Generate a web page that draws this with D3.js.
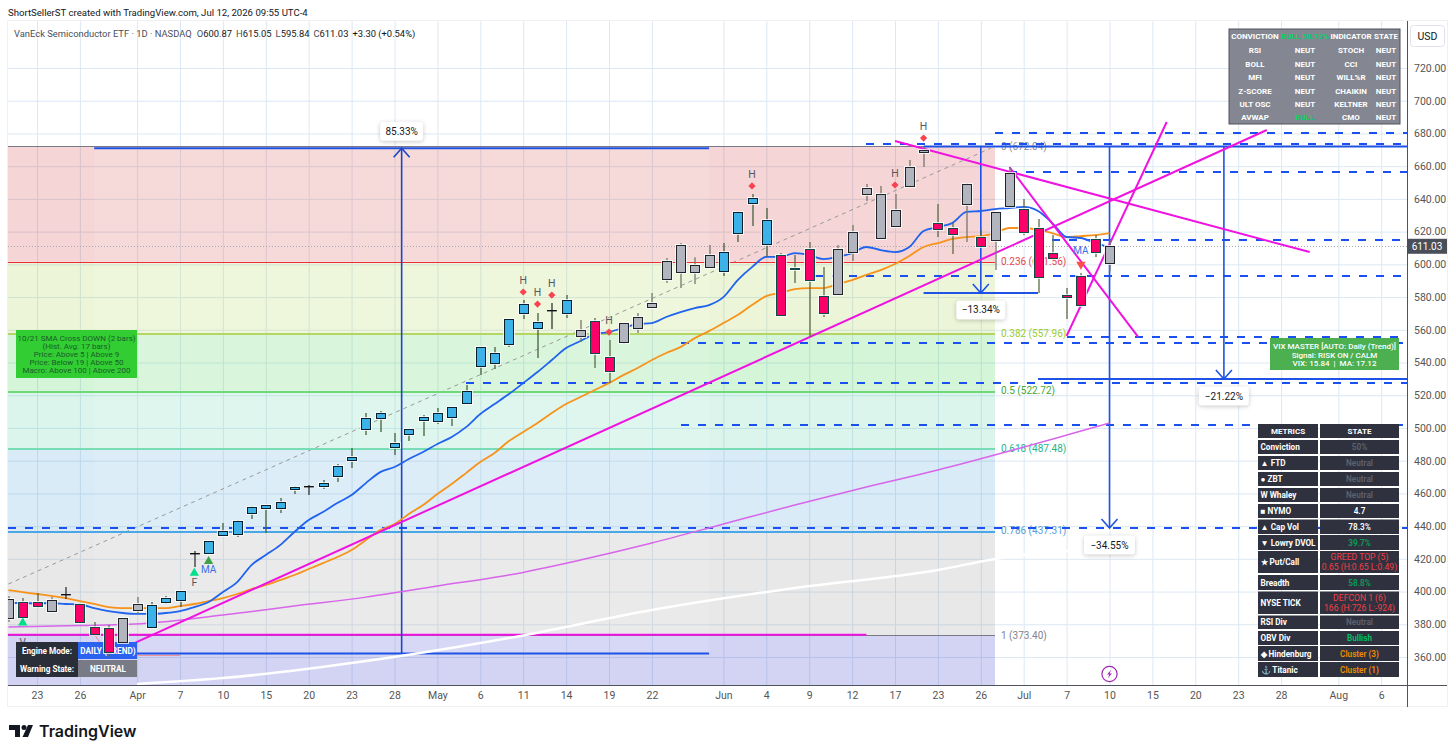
<!DOCTYPE html>
<html>
<head>
<meta charset="utf-8">
<title>SMH daily</title>
<style>
html, body { margin: 0; padding: 0; background: #fff; }
svg { display: block; font-family: Roboto, sans-serif; }
.axis path, .axis line { display: none; }
.grid path { display: none; }
.grid line { stroke: #dce8f3; stroke-width: 1; }
.box { filter: drop-shadow(0 1px 2px rgba(0,0,0,.22)); }
.crisp { shape-rendering: crispEdges; }
</style>
<script src="https://d3js.org/d3.v7.min.js"></script>
</head>
<body>
<svg id="chart" width="1456" height="755"></svg>
<script>
// daily bars, Mar 19 -> Jul 10
const opens = [383.8,393.6,393.6,388.1,398.5,392.4,378.3,377.7,369.1,388.7,
  378.3,393.6,394.8,423.5,423.5,434.6,435.2,448.0,451.0,451.0,
  462.7,464.5,464.5,470.6,480.4,499.3,506.1,488.3,496.3,504.8,
  504.2,506.7,515.2,537.8,539.7,551.3,570.2,561.0,572.1,570.2,
  556.2,565.3,543.3,552.5,561.0,573.9,591.0,595.3,595.3,598.3,
  595.9,619.1,637.5,612.4,605.7,597.7,609.3,580.6,581.9,607.5,
  643.0,616.1,623.4,647.9,668.6,625.2,622.2,636.9,616.7,614.9,
  635.6,633.8,622.2,606.9,581.2,592.8,615.5,600.87];
const highs = [397.3,396.0,399.1,396.6,402.8,393.0,381.4,379.5,383.8,396.6,
  393.6,397.3,400.3,424.8,430.9,441.9,443.7,452.3,452.9,457.2,
  464.5,465.1,468.2,478.0,487.7,509.1,510.3,496.9,499.3,507.9,
  512.2,512.8,526.2,549.4,549.4,566.6,578.2,570.2,576.3,581.2,
  565.9,567.2,553.7,564.1,570.2,582.5,603.9,613.0,604.4,611.8,
  613.0,632.5,643.0,634.4,606.9,605.7,613.6,598.3,611.8,624.0,
  649.1,647.9,643.0,663.7,671.7,636.9,625.2,649.7,620.9,632.0,
  659.5,639.9,627.7,617.9,585.5,594.7,617.9,615.05];
const lows = [381.4,380.8,389.9,387.5,395.4,380.8,373.4,360.0,369.1,386.3,
  378.3,392.4,390.5,415.0,423.5,434.6,433.3,444.3,435.8,448.0,
  459.6,459.0,462.7,466.9,475.5,495.7,497.5,483.4,492.0,495.1,
  502.4,501.2,514.6,532.3,536.0,549.4,566.6,542.7,560.4,567.2,
  552.5,536.6,527.4,551.3,558.0,573.3,588.6,585.5,588.0,597.7,
  592.8,613.6,623.4,604.5,569.0,588.6,555.6,567.8,581.9,602.0,
  638.7,616.1,623.4,647.9,659.5,616.7,606.3,613.6,611.2,596.5,
  635.6,617.9,582.5,603.8,566.6,575.1,604.5,595.84];
const closes = [395.4,384.4,391.1,394.8,398.5,381.4,374.0,363.0,383.8,392.4,
  391.8,396.0,400.3,423.5,430.9,437.0,443.1,451.7,452.9,454.7,
  463.9,464.5,466.3,476.7,482.2,506.1,509.1,490.8,499.3,506.7,
  509.1,512.8,522.5,549.4,545.8,566.6,575.7,564.7,572.1,578.2,
  559.8,545.8,534.8,564.1,567.8,576.3,602.0,611.8,599.6,605.7,
  607.5,632.0,640.5,627.1,569.0,597.1,590.4,570.2,609.3,619.7,
  646.6,643.0,633.2,659.5,669.9,621.6,618.5,649.1,611.2,632.0,
  655.8,619.7,592.2,603.8,580.0,575.1,607.5,611.03];
// g grey, b blue, p pink, d doji
const barKinds = ("gppgdpppgg" + "bbbdbbbbbb" + "bdbbbbbbbb" + "bbbbbbbbdb" +
  "gppggggggg" + "bbbbppppgg" + "gggggppgpg" + "gppppppg").split("");

const maBlue = [393.0,393.0,392.7,393.0,392.4,392.1,389.9,388.1,386.9,386.3,
  386.3,386.9,388.1,390.5,393.6,399.7,405.8,416.2,422.3,428.4,
  436.4,443.7,448.6,454.1,459.0,466.3,473.0,476.1,481.0,485.3,
  490.2,494.5,500.5,508.5,514.6,520.7,527.4,534.2,541.5,548.8,
  553.1,557.4,558.6,561.1,563.5,564.1,567.8,570.8,573.3,575.1,
  580.0,590.4,598.3,604.5,604.5,606.9,605.7,603.2,604.5,606.9,
  610.6,608.7,607.5,610.6,620.4,622.8,625.2,632.0,632.6,633.8,
  634.4,635.1,632.6,625.2,616.7,616.1,613.0,610.6];
const maOrange = [400.9,399.7,398.5,397.3,396.0,394.2,392.4,390.5,389.9,389.9,
  389.9,389.9,391.1,392.4,394.2,396.0,398.5,401.5,404.0,407.0,
  410.1,413.8,417.4,421.1,425.4,431.5,437.6,441.3,447.4,452.9,
  459.6,465.7,472.4,479.2,484.7,492.0,497.5,503.0,509.1,514.6,
  518.9,523.2,527.4,532.3,536.6,541.5,545.8,549.4,554.9,559.2,
  564.1,569.0,575.1,580.6,582.5,584.9,585.5,585.5,588.0,590.4,
  593.5,596.5,600.2,605.1,610.6,613.0,615.5,616.7,617.3,619.1,
  622.2,622.2,621.0,619.1,616.7,617.3,617.9,619.1];
const maPurpleIdx = [0,5,10,15,20,25,30,35,40,45,50,55,60,65,70,75,77];
const maPurple = [378.3,379.2,380.8,385.6,391.2,396.6,403.4,410.1,419.3,429.7,441.3,452.9,463.9,474.3,485.9,498.1,503.0];
const maWhiteIdx = [9,15,25,35,45,55,65,69,77];
const maWhite = [343.5,347.1,357.5,371.6,388.7,402.2,413.2,419.9,426.6];

const priceTicks = d3.range(360, 721, 20);
const dateTickIdx = [2,5,9,12,15,18,21,24,27,30,33,36,39,42,45,50,53,56,59,62,65,68,71,74,77,80,83,86,89,93,96];
const dateTickLabels = ["23","26","Apr","7","10","15","20","23","28","May","6","11","14","19","22","Jun","4","9","12","17","23","26","Jul","7","10","15","20","23","28","Aug","6"];

const fibRatios = ["0","0.236","0.382","0.5","0.618","0.786","1"];
const fibPrices = [672.04,601.56,557.96,522.72,487.48,437.31,373.40];

const dashedPrices = [680.2,673.5,656.4,614.9,592.8,555.6,551.9,527.4,501.8,438.8];
const dashedStartIdx = [69,60,70,73,56.4,74,47,32,47,0];

const trendStartIdx = [8.5,62,70,74];
const trendStartPrice = [367.3,675.4,659.5,556.2];
const trendEndIdx = [88,91,79,81];
const trendEndPrice = [682.1,607.5,555.6,687.0];

const highMarkerIdx = [36,37,38,42,52,62,64];
const highMarkerPrice = [583.1,575.7,581.2,558.6,647.9,648.5,677.2];

const measureIdx = [27.5,68,77,85];
const measureFrom = [362.2,672,672,672];
const measureTo = [671,582.5,438.8,529.9];
const measureLabels = ["85.33%","\u221213.34%","\u221234.55%","\u221221.22%"];

const metricNames = ["Conviction","\u25B2 FTD","\u25CF ZBT","W Whaley","\u25A0 NYMO","\u25B2 Cap Vol","\u25BC Lowry DVOL","\u2605 Put/Call","Breadth","NYSE TICK","RSI Div","OBV Div","\u25C6 Hindenburg","\u2693 Titanic"];
const metricStates = ["50%","Neutral","Neutral","Neutral","4.7","78.3%","39.7%","GREED TOP (5)|0.65 (H:0.65 L:0.49)","58.8%","DEFCON 1 (6)|166 (H:726 L:-924)","Neutral","Bullish","Cluster (3)","Cluster (1)"];
const metricColors = ["#5f626d","#5f626d","#5f626d","#5f626d","#fff","#fff","#0a9d58","#f23f4a","#0a9d58","#f23f4a","#5f626d","#00c466","#f08c00","#f08c00"];
const metricTops = [440,456,472,488,504,519.5,535,551,575,591.5,615.5,631,646,662];
const metricBottoms = [454,470,486,502,518,534,550,573,590,614,629,645,661,677];

const convLeft = ["RSI","BOLL","MFI","Z-SCORE","ULT OSC","AVWAP"];
const convMid = ["NEUT","NEUT","NEUT","NEUT","NEUT","BULL"];
const convInd = ["STOCH","CCI","WILL%R","CHAIKIN","KELTNER","CMO"];
const convState = ["NEUT","NEUT","NEUT","NEUT","NEUT","NEUT"];

const smaLines = ["10/21 SMA Cross DOWN (2 bars)","(Hist. Avg: 17 bars)","Price: Above 5 | Above 9","Price: Below 19 | Above 50","Macro: Above 100 | Above 200"];
const vixLines = ["VIX MASTER [AUTO: Daily (Trend)]","Signal: RISK ON / CALM","VIX: 15.84  |  MA: 17.12"];

const PLOT_L = 8, PLOT_R = 1407, PLOT_T = 21, PLOT_B = 685;
const svg = d3.select("#chart");

const x = d3.scaleLinear().domain([0, 96]).range([8.4, 1381.2]);
const y = d3.scaleLinear().domain([720, 360]).range([68, 657]);
const BODY_W = 9;

svg.append("defs").append("clipPath").attr("id", "plot")
  .append("rect").attr("x", PLOT_L).attr("y", PLOT_T)
  .attr("width", PLOT_R - PLOT_L).attr("height", PLOT_B - PLOT_T);

// frame
svg.append("rect").attr("x", 7.5).attr("y", 20.5).attr("width", 1440).attr("height", 686)
  .attr("fill", "#fff").attr("stroke", "#f0f1f4");

// grid
svg.append("g").attr("class", "grid").attr("transform", `translate(0,${PLOT_B})`)
  .call(d3.axisBottom(x).tickValues(dateTickIdx).tickSize(-(PLOT_B - PLOT_T)).tickFormat(""));
svg.append("g").attr("class", "grid").attr("transform", `translate(${PLOT_R},0)`)
  .call(d3.axisLeft(y).tickValues(priceTicks).tickSize(PLOT_R - PLOT_L).tickFormat(""));

const plot = svg.append("g").attr("clip-path", "url(#plot)");

// fib zones
const zoneFill = ["rgb(205,45,45)","rgb(160,205,60)","rgb(45,205,60)","rgb(75,205,160)","rgb(65,155,210)","rgb(140,140,140)","rgb(35,40,200)"];
const fibLine = ["#787b86","#ee2c36","#b4d665","#6fd877","#78dcb4","#4aa8e8","#787b86"];
const fibText = ["#8a8d96","#e5484d","#9ccc2e","#43a832","#1fb488","#5b9bd5","#80838c"];
const zoneBounds = fibPrices.concat([y.invert(PLOT_B)]);
const fibRight = 995;

plot.selectAll(".zone").data(fibPrices).enter().append("rect")
  .attr("class", "zone")
  .attr("x", PLOT_L).attr("width", fibRight - PLOT_L)
  .attr("y", d => y(d))
  .attr("height", (d, i) => y(zoneBounds[i + 1]) - y(d))
  .attr("fill", (d, i) => zoneFill[i]).attr("fill-opacity", 0.2);
plot.append("rect").attr("x", x(6)).attr("width", x(49) - x(6))
  .attr("y", y(measureTo[0])).attr("height", y(measureFrom[0]) - y(measureTo[0]))
  .attr("fill", "#fff").attr("fill-opacity", 0.1);

// fib diagonal
plot.append("line")
  .attr("x1", x(0)).attr("y1", y(404.6)).attr("x2", x(68.7)).attr("y2", y(671))
  .attr("stroke", "#9a9a9a").attr("stroke-width", 1).attr("stroke-dasharray", "4 4");

// last price dotted
plot.append("line").attr("class", "crisp").attr("x1", PLOT_L).attr("x2", PLOT_R)
  .attr("y1", y(closes[77])).attr("y2", y(closes[77]))
  .attr("stroke", "#a5a8b0").attr("stroke-width", 1).attr("stroke-dasharray", "1 2");

plot.selectAll(".fibline").data(fibPrices).enter().append("line")
  .attr("class", "crisp")
  .attr("x1", PLOT_L).attr("x2", fibRight)
  .attr("y1", d => Math.round(y(d)) + 0.5).attr("y2", d => Math.round(y(d)) + 0.5)
  .attr("stroke", (d, i) => fibLine[i]).attr("stroke-width", (d, i) => (i == 0 || i == 1 || i == 6) ? 1 : 2);
plot.selectAll(".fiblabel").data(fibPrices).enter().append("text")
  .attr("x", 1001).attr("y", d => y(d) + 3.5)
  .attr("font-size", 10).attr("fill", (d, i) => fibText[i])
  .text((d, i) => `${fibRatios[i]} (${d.toFixed(2)})`);

// dashed levels
plot.selectAll(".dash").data(dashedPrices).enter().append("line")
  .attr("class", "crisp")
  .attr("x1", (d, i) => x(dashedStartIdx[i])).attr("x2", PLOT_R)
  .attr("y1", d => y(d)).attr("y2", d => y(d))
  .attr("stroke", "#1a50f0").attr("stroke-width", 1.5).attr("stroke-dasharray", "8 9");

// flat magenta and red thin pieces
plot.append("line").attr("x1", PLOT_L).attr("x2", x(60)).attr("y1", y(373.6)).attr("y2", y(373.6))
  .attr("stroke", "#f012e0").attr("stroke-width", 2);
plot.append("path").attr("fill", "none").attr("stroke", "#f28a8a").attr("stroke-width", 1)
  .attr("d", d3.line().x(d => x(d[0])).y(d => y(d[1]))([[6,374],[7,361],[12,361]]));

// measure tools
const blue = "#1e53e5";
plot.append("line").attr("x1", x(6)).attr("x2", x(49)).attr("y1", y(671)).attr("y2", y(671)).attr("stroke", blue).attr("stroke-width", 2);
plot.append("line").attr("x1", x(7)).attr("x2", x(49)).attr("y1", y(362.2)).attr("y2", y(362.2)).attr("stroke", blue).attr("stroke-width", 2);
plot.append("line").attr("x1", x(64)).attr("x2", PLOT_R).attr("y1", y(672)).attr("y2", y(672)).attr("stroke", blue).attr("stroke-width", 2);
plot.append("line").attr("x1", x(64)).attr("x2", x(72)).attr("y1", y(582.5)).attr("y2", y(582.5)).attr("stroke", blue).attr("stroke-width", 2);
plot.append("line").attr("x1", x(72)).attr("x2", PLOT_R).attr("y1", y(529.9)).attr("y2", y(529.9)).attr("stroke", blue).attr("stroke-width", 2);

measureIdx.forEach((m, i) => {
  const px = x(m), tip = y(measureTo[i]);
  const dir = measureTo[i] > measureFrom[i] ? 9 : -9;
  plot.append("line").attr("x1", px).attr("x2", px).attr("y1", y(measureFrom[i])).attr("y2", tip)
    .attr("stroke", i == 0 ? "#1e45c8" : blue).attr("stroke-width", 1.6);
  plot.append("path").attr("fill", "none").attr("stroke", i == 0 ? "#1e45c8" : blue).attr("stroke-width", 1.6)
    .attr("d", `M${px - 8},${tip + dir}L${px},${tip}L${px + 8},${tip + dir}`);
});

// moving averages
const lineIdx = (idx) => d3.line().x((d, i) => x(idx[i])).y(d => y(d)).curve(d3.curveMonotoneX);
const lineAll = d3.line().x((d, i) => x(i)).y(d => y(d)).curve(d3.curveMonotoneX);
plot.append("path").attr("d", lineIdx(maWhiteIdx)(maWhite)).attr("fill", "none").attr("stroke", "#fff").attr("stroke-width", 2.5);
plot.append("path").attr("d", lineIdx(maPurpleIdx)(maPurple)).attr("fill", "none").attr("stroke", "#d865ea").attr("stroke-width", 1.5);
plot.append("path").attr("d", lineAll(maOrange)).attr("fill", "none").attr("stroke", "#f7931a").attr("stroke-width", 1.8);
plot.append("path").attr("d", lineAll(maBlue)).attr("fill", "none").attr("stroke", "#1f63ee").attr("stroke-width", 1.8);

// trend lines
trendStartIdx.forEach((t, i) => {
  plot.append("line")
    .attr("x1", x(t)).attr("y1", y(trendStartPrice[i]))
    .attr("x2", x(trendEndIdx[i])).attr("y2", y(trendEndPrice[i]))
    .attr("stroke", "#f012e0").attr("stroke-width", 2);
});

// label under the engine panel
plot.append("text").attr("x", x(1)).attr("y", y(366.7)).attr("text-anchor", "middle").attr("font-size", 10).attr("fill", "#555862").text("V");

// engine panel, sits under the bars
const engine = plot.append("g");
engine.append("rect").attr("x", 16).attr("y", 642).attr("width", 62).attr("height", 35).attr("fill", "#2a2e39");
engine.append("rect").attr("x", 78).attr("y", 642).attr("width", 59).attr("height", 17).attr("fill", "#2b62f0");
engine.append("rect").attr("x", 78).attr("y", 660).attr("width", 59).attr("height", 17).attr("fill", "#787b86");
[["Engine Mode:", 47, 653.5], ["Warning State:", 47, 672], ["DAILY (TREND)", 108, 653.5], ["NEUTRAL", 108, 672]].forEach(t => {
  engine.append("text").attr("x", t[1]).attr("y", t[2]).attr("text-anchor", "middle")
    .attr("font-size", 8.2).attr("font-weight", 700).attr("fill", "#fff").text(t[0]);
});

// candles
const bodyFill = { g: "#b2b5be", b: "#3db2e8", p: "#fb0068", d: "#111" };
const bodyEdge = { g: "#1d2326", b: "#08202c", p: "#0f4a46", d: "#111" };
const wickColor = { g: "#75786c", b: "#44603c", p: "#5d6a45", d: "#333" };
const bodyLeft = i => Math.round(x(i) - BODY_W / 2) + 0.5;
const bodyTop = i => Math.round(Math.min(y(opens[i]), y(closes[i]))) + 0.5;
const bodyHeight = i => Math.max(Math.round(Math.abs(y(opens[i]) - y(closes[i]))), 1);
const bars = plot.selectAll(".bar").data(opens).enter().append("g").attr("class", "bar");
bars.append("line")
  .attr("x1", (d, i) => bodyLeft(i) + BODY_W / 2).attr("x2", (d, i) => bodyLeft(i) + BODY_W / 2)
  .attr("y1", (d, i) => y(highs[i])).attr("y2", (d, i) => y(lows[i]))
  .attr("stroke", (d, i) => wickColor[barKinds[i]]).attr("stroke-width", 1.3);
bars.append("rect")
  .attr("x", (d, i) => bodyLeft(i) - 1.5).attr("width", BODY_W + 3)
  .attr("y", (d, i) => bodyTop(i) - 1.5)
  .attr("height", (d, i) => bodyHeight(i) + 3)
  .attr("fill", "#fff").attr("fill-opacity", (d, i) => barKinds[i] == "d" ? 0 : 0.75);
bars.append("rect")
  .attr("x", (d, i) => bodyLeft(i)).attr("width", BODY_W)
  .attr("y", (d, i) => bodyTop(i))
  .attr("height", (d, i) => barKinds[i] == "d" ? 0.5 : bodyHeight(i))
  .attr("fill", (d, i) => bodyFill[barKinds[i]])
  .attr("stroke", (d, i) => bodyEdge[barKinds[i]]).attr("stroke-width", (d, i) => barKinds[i] == "d" ? 0.8 : 1);

// H markers
highMarkerIdx.forEach((b, i) => {
  const cy = y(highMarkerPrice[i]);
  plot.append("path").attr("d", d3.symbol().type(d3.symbolSquare).size(26)())
    .attr("transform", `translate(${x(b)},${cy}) rotate(45)`).attr("fill", "#f9424f");
  plot.append("text").attr("x", x(b)).attr("y", cy - 8).attr("text-anchor", "middle")
    .attr("font-size", 10.5).attr("fill", "#555862").text("H");
});

// other signals
const tri = d3.symbol().type(d3.symbolTriangle).size(38);
plot.append("path").attr("d", tri()).attr("transform", `translate(${x(1)},${y(380.9)})`).attr("fill", "#00e08a");
plot.append("path").attr("d", tri()).attr("transform", `translate(${x(13)},${y(411.3)})`).attr("fill", "#00e08a");
plot.append("path").attr("d", tri()).attr("transform", `translate(${x(14)},${y(418.5)})`).attr("fill", "#3fa24a");
plot.append("path").attr("d", tri()).attr("transform", `translate(${x(75)},${y(600)}) rotate(180)`).attr("fill", "#f9504a");
plot.append("text").attr("x", x(13)).attr("y", y(403.4)).attr("text-anchor", "middle").attr("font-size", 10.5).attr("fill", "#555862").text("F");
plot.append("text").attr("x", x(14)).attr("y", y(411.3)).attr("text-anchor", "middle").attr("font-size", 10).attr("fill", "#3a6fe8").text("MA");
plot.append("text").attr("x", x(75)).attr("y", y(606.4)).attr("text-anchor", "middle").attr("font-size", 10).attr("fill", "#3a6fe8").text("MA");

// percent boxes
const boxOffset = [-17, 17, 17, 17];
const boxW = [43, 49, 51, 50];
measureIdx.forEach((m, i) => {
  const cx = x(m), cy = y(measureTo[i]) + boxOffset[i];
  svg.append("rect").attr("class", "box").attr("x", cx - boxW[i] / 2).attr("y", cy - 9.5)
    .attr("width", boxW[i]).attr("height", 19).attr("rx", 3).attr("fill", "#fff");
  svg.append("text").attr("x", cx).attr("y", cy + 3.5).attr("text-anchor", "middle")
    .attr("font-size", 10).attr("fill", "#131722").text(measureLabels[i]);
});

// lightning badge
const bolt = svg.append("g").attr("transform", `translate(${x(77)},674)`);
bolt.append("circle").attr("r", 7.6).attr("fill", "#fff").attr("stroke", "#9c27b0").attr("stroke-width", 1.2);
bolt.append("path").attr("d", "M1.6,-4.2L-2.4,0.6H-0.2L-1.6,4.2L2.4,-0.6H0.2Z").attr("fill", "#9c27b0");

// green SMA box
svg.append("rect").attr("x", 16).attr("y", 330).attr("width", 121).attr("height", 48).attr("fill", "#32cd32");
svg.selectAll(".sma").data(smaLines).enter().append("text")
  .attr("x", 76.5).attr("y", (d, i) => 341 + i * 8).attr("text-anchor", "middle")
  .attr("font-size", 8).attr("fill", "#1a5e2b").text(d => d);

// conviction table
svg.append("rect").attr("x", 1229).attr("y", 29).attr("width", 171).attr("height", 95)
  .attr("fill", "#848791").attr("stroke", "#50535e").attr("stroke-width", 1);
const convCols = [1255, 1305, 1351, 1386];
const convRows = [36, 50, 63.5, 77, 90.5, 104, 117];
function convText(cx, cy, t, col) {
  svg.append("text").attr("x", cx).attr("y", cy + 3).attr("text-anchor", "middle")
    .attr("font-size", 8).attr("font-weight", 700).attr("fill", col).text(t);
}
convText(convCols[0], convRows[0], "CONVICTION", "#fff");
convText(convCols[1], convRows[0], "BULL 50.73%", "#00d26a");
convText(convCols[2], convRows[0], "INDICATOR", "#fff");
convText(convCols[3], convRows[0], "STATE", "#fff");
convLeft.forEach((t, i) => {
  convText(convCols[0], convRows[i + 1], t, "#fff");
  convText(convCols[1], convRows[i + 1], convMid[i], convMid[i] == "BULL" ? "#00d26a" : "#fff");
  convText(convCols[2], convRows[i + 1], convInd[i], "#fff");
  convText(convCols[3], convRows[i + 1], convState[i], "#fff");
});

// vix box
svg.append("rect").attr("x", 1270).attr("y", 338).attr("width", 129).attr("height", 32).attr("fill", "#4caf50");
svg.selectAll(".vix").data(vixLines).enter().append("text")
  .attr("x", 1334.5).attr("y", (d, i) => 349 + i * 8.7)
  .attr("text-anchor", "middle").attr("font-size", 8).attr("font-weight", 500).attr("fill", "#fff")
  .attr("xml:space", "preserve").text(d => d);

// metrics table
const rowFill = "#2f323e";
svg.append("rect").attr("x", 1258).attr("y", 424).attr("width", 60).attr("height", 14).attr("fill", rowFill);
svg.append("rect").attr("x", 1320).attr("y", 424).attr("width", 79).attr("height", 14).attr("fill", rowFill);
svg.append("text").attr("x", 1288).attr("y", 434).attr("text-anchor", "middle").attr("font-size", 8).attr("font-weight", 700).attr("fill", "#fff").text("METRICS");
svg.append("text").attr("x", 1359.5).attr("y", 434).attr("text-anchor", "middle").attr("font-size", 8).attr("font-weight", 700).attr("fill", "#fff").text("STATE");
metricNames.forEach((name, i) => {
  const t = metricTops[i], b = metricBottoms[i], mid = (t + b) / 2;
  svg.append("rect").attr("x", 1258).attr("y", t).attr("width", 60).attr("height", b - t).attr("fill", rowFill);
  svg.append("rect").attr("x", 1320).attr("y", t).attr("width", 79).attr("height", b - t).attr("fill", rowFill);
  const left = svg.append("text").attr("x", 1260.5).attr("y", mid + 3).attr("font-size", 8.2).attr("font-weight", 700).attr("fill", "#fff");
  if (name.startsWith("\u2693")) {
    left.append("tspan").attr("fill", "#2a9df4").text("\u2693");
    left.append("tspan").text(name.slice(1));
  } else {
    left.text(name);
  }
  const parts = metricStates[i].split("|");
  parts.forEach((p, k) => {
    svg.append("text").attr("x", 1359.5).attr("y", mid + 3 + (k - (parts.length - 1) / 2) * 9.5)
      .attr("text-anchor", "middle").attr("font-size", parts.length > 1 ? 8.6 : 8.2)
      .attr("font-weight", parts.length > 1 ? 400 : 600).attr("fill", metricColors[i]).text(p);
  });
});

// axes
svg.append("line").attr("x1", PLOT_L).attr("x2", 1447).attr("y1", PLOT_B + 0.5).attr("y2", PLOT_B + 0.5).attr("stroke", "#50535e");
svg.append("line").attr("x1", PLOT_R + 0.5).attr("x2", PLOT_R + 0.5).attr("y1", PLOT_T).attr("y2", 707).attr("stroke", "#50535e");

const xAxis = svg.append("g").attr("class", "axis").attr("transform", `translate(0,${PLOT_B})`)
  .call(d3.axisBottom(x).tickValues(dateTickIdx).tickSize(0).tickPadding(7).tickFormat((d, i) => dateTickLabels[i]));
xAxis.selectAll("text").attr("font-size", 10.5).attr("font-family", "Roboto, sans-serif").attr("fill", "#555");

const yAxis = svg.append("g").attr("class", "axis").attr("transform", `translate(${PLOT_R},0)`)
  .call(d3.axisRight(y).tickValues(priceTicks).tickSize(0).tickPadding(7).tickFormat(d3.format(".2f")));
yAxis.selectAll("text").attr("font-size", 10.5).attr("font-family", "Roboto, sans-serif").attr("fill", "#555");

// last price tag
const lastY = y(closes[77]);
svg.append("rect").attr("x", PLOT_R).attr("y", lastY - 7.5).attr("width", 40).attr("height", 15).attr("fill", "#4a4e59");
svg.append("text").attr("x", 1427).attr("y", lastY + 3.5).attr("text-anchor", "middle").attr("font-size", 10).attr("fill", "#fff").text(closes[77].toFixed(2));

// USD button
svg.append("rect").attr("x", 1410.5).attr("y", 25.5).attr("width", 34).attr("height", 21).attr("rx", 3)
  .attr("fill", "#fff").attr("stroke", "#e0e3eb");
svg.append("text").attr("x", 1427.5).attr("y", 39.5).attr("text-anchor", "middle").attr("font-size", 10.5).attr("fill", "#131722").text("USD");

// header texts
svg.append("text").attr("x", 8).attr("y", 16).attr("font-size", 9.6).attr("fill", "#131722")
  .text("ShortSellerST created with TradingView.com, Jul 12, 2026 09:55 UTC-4");
const legend = svg.append("text").attr("x", 14).attr("y", 37).attr("font-size", 9.4).attr("fill", "#4a4e59");
legend.append("tspan").text("VanEck Semiconductor ETF \u00B7 1D \u00B7 NASDAQ");
[["O", "600.87"], ["H", "615.05"], ["L", "595.84"], ["C", "611.03"]].forEach((t, i) => {
  legend.append("tspan").attr("dx", i == 0 ? 5 : 4).text(t[0]);
  legend.append("tspan").attr("fill", "#131722").text(t[1]);
});
legend.append("tspan").attr("dx", 4).attr("fill", "#131722").text("+3.30 (+0.54%)");

// TradingView mark
const logo = svg.append("g").attr("fill", "#131722");
logo.append("path").attr("d", "M9,725H20V737H15V730H9Z");
logo.append("circle").attr("cx", 24).attr("cy", 727.5).attr("r", 2.5);
logo.append("path").attr("d", "M28,725H33L28,737H22.5Z");
logo.append("text").attr("x", 39).attr("y", 737).attr("font-family", "Inter, sans-serif")
  .attr("font-size", 16).attr("font-weight", 600).text("TradingView");
</script>
</body>
</html>
